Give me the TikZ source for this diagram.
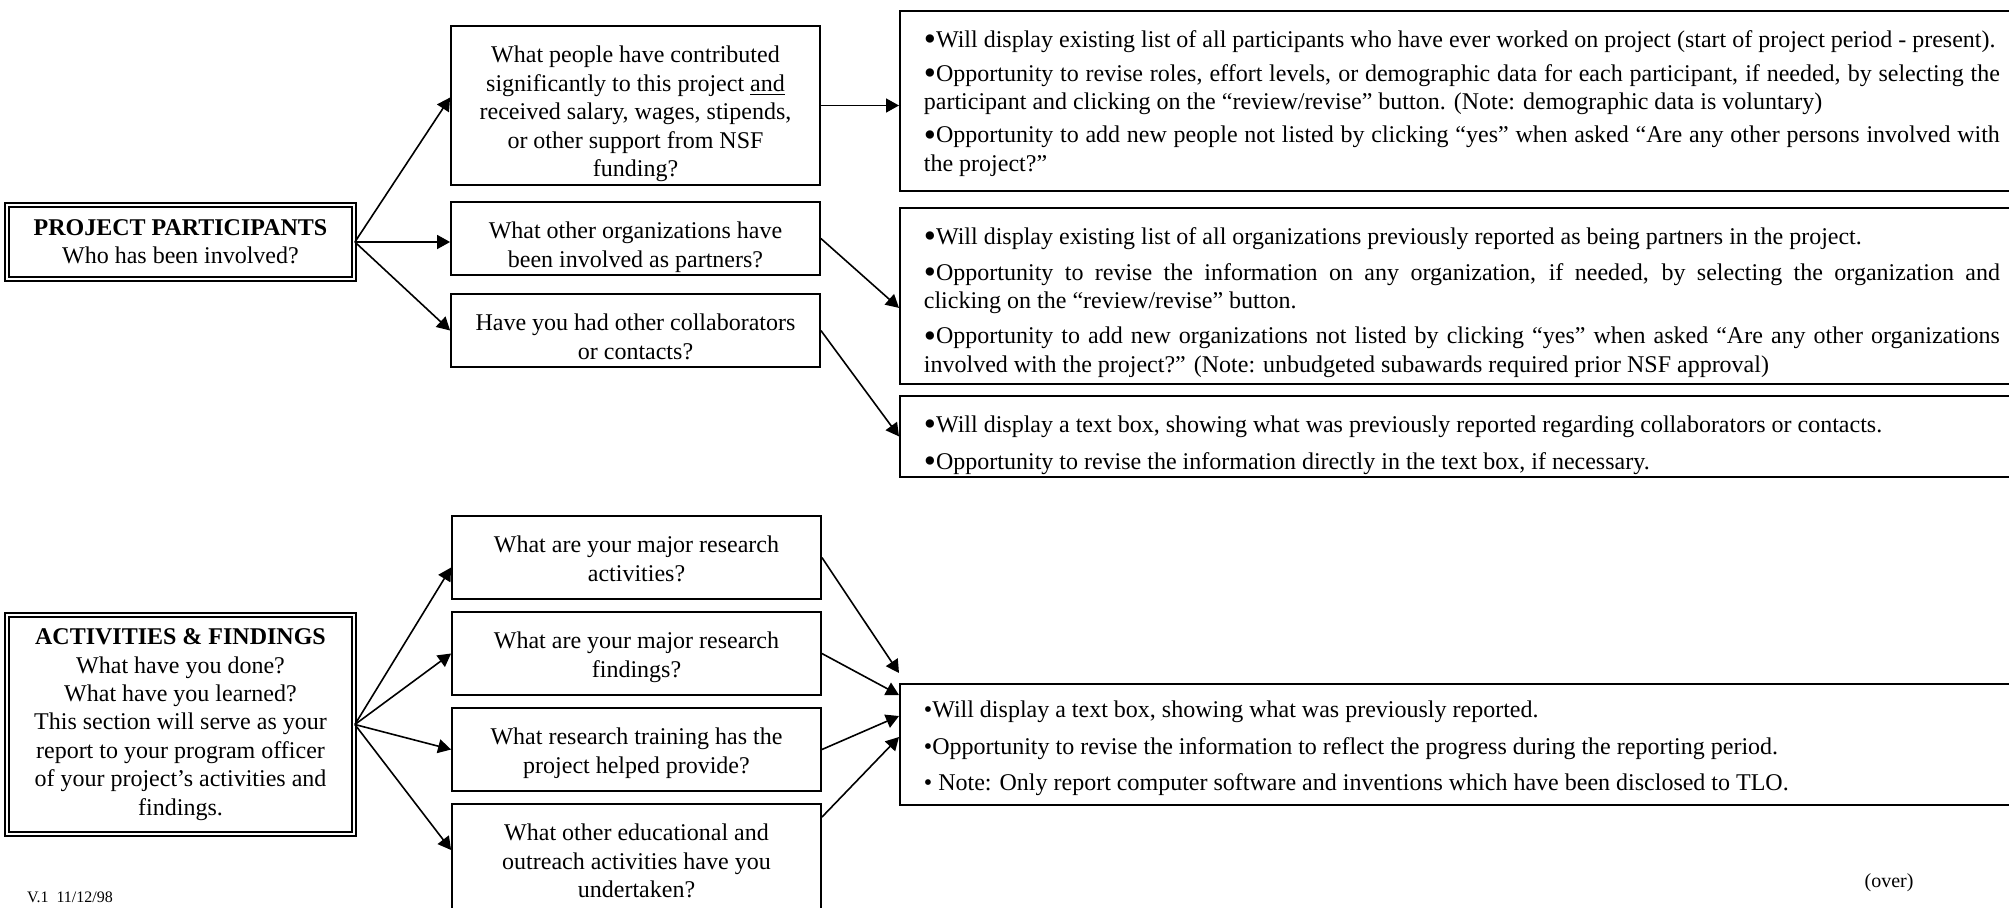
\documentclass[tikz,border=0pt]{standalone}
\usepackage{fontspec}
\setmainfont{Liberation Serif}
\usetikzlibrary{arrows.meta}
\newcommand{\bigbul}{\raisebox{-1.6pt}{\scalebox{1.45}{•}}}
% top-aligned box contents: height, text
\newcommand{\qtext}[2]{\parbox[c][#1][t]{180pt}{\centering\strut #2}}
\newcommand{\atext}[2]{\parbox[c][#1][t]{538pt}{\strut #2}}

\begin{document}
\begin{tikzpicture}[x=0.5pt, y=-0.5pt,
    every node/.style={font=\fontsize{12}{14.2}\selectfont},
    section/.style={draw, line width=0.9pt, double, double distance=1.2pt, align=center, minimum width=173.5pt, inner sep=2pt},
    question/.style={draw, line width=0.9pt, inner xsep=2.25pt, inner ysep=8.5pt},
    answer/.style={draw, line width=0.9pt, anchor=north west, inner xsep=12pt, inner ysep=8.5pt},
    link/.style={line width=0.8pt, -{Triangle[length=6.5pt, width=7pt]}}]
    \useasboundingbox (0,0) rectangle (2009,907);

    % Section 1: Project participants
    \node (pp) [section, minimum height=37pt] at (180.5,242) {\textbf{PROJECT PARTICIPANTS}\\ Who has been involved?};
    \node (qpeople) [question] at (635.5,105.5) {\qtext{62.5pt}{What people have contributed\\ significantly to this project \underline{and}\\ received salary, wages, stipends,\\ or other support from NSF\\ funding?}};
    \node (qorgs) [question] at (635.5,238.5) {\qtext{19.5pt}{What other organizations have\\ been involved as partners?}};
    \node (qcollab) [question] at (635.5,330.5) {\qtext{19.5pt}{Have you had other collaborators\\ or contacts?}};
    \node (rpeople) [answer] at (899,10) {\atext{73pt}{\bigbul Will display existing list of all participants who have ever worked on project (start of project period - present).\\[2.5pt]
        \bigbul Opportunity to revise roles, effort levels, or demographic data for each participant, if needed, by selecting the\linebreak participant and clicking on the “review/revise” button. (Note: demographic data is voluntary)\\[2.5pt]
        \bigbul Opportunity to add new people not listed by clicking “yes” when asked “Are any other persons involved with\linebreak the project?”}};
    \node (rorgs) [answer] at (899,207) {\atext{71pt}{\bigbul Will display existing list of all organizations previously reported as being partners in the project.\\[3.5pt]
        \bigbul Opportunity to revise the information on any organization, if needed, by selecting the organization and\linebreak clicking on the “review/revise” button.\\[3.5pt]
        \bigbul Opportunity to add new organizations not listed by clicking “yes” when asked “Are any other organizations\linebreak involved with the project?” (Note: unbudgeted subawards required prior NSF approval)}};
    \node (rcollab) [answer] at (899,395) {\atext{23.5pt}{\bigbul Will display a text box, showing what was previously reported regarding collaborators or contacts.\\[4pt]
        \bigbul Opportunity to revise the information directly in the text box, if necessary.}};
    \draw[link] (pp.east) -- ([yshift=4pt]qpeople.west);
    \draw[link] (pp.east) -- (pp.east -| qorgs.west);
    \draw[link] (pp.east) -- (qcollab.west);
    \draw[link] (qpeople.east) -- (qpeople.east -| rpeople.west);
    \draw[link] (qorgs.east) -- ([yshift=-6pt]rorgs.west);
    \draw[link] (qcollab.east) -- (rcollab.west);

    % Section 2: Activities and findings
    \node (af) [section, minimum height=109.5pt] at (180.5,724.5) {\textbf{ACTIVITIES \& FINDINGS}\\ What have you done?\\ What have you learned?\\ This section will serve as your\\ report to your program officer\\ of your project’s activities and\\ findings.};
    \node (qactiv) [question] at (636.5,557.5) {\qtext{24.5pt}{What are your major research\\ activities?}};
    \node (qfind) [question] at (636.5,653.5) {\qtext{24.5pt}{What are your major research\\ findings?}};
    \node (qtrain) [question] at (636.5,749.5) {\qtext{24.5pt}{What research training has the\\ project helped provide?}};
    \node (qoutreach) [question] at (636.5,860) {\qtext{39pt}{What other educational and\\ outreach activities have you\\ undertaken?}};
    \node (ractiv) [answer, inner ysep=7pt] at (899,683) {\atext{46.5pt}{•Will display a text box, showing what was previously reported.\\[4pt]
        •Opportunity to revise the information to reflect the progress during the reporting period.\\[4pt]
        • Note: Only report computer software and inventions which have been disclosed to TLO.}};
    \draw[link] (af.east) -- ([yshift=-5pt]qactiv.west);
    \draw[link] (af.east) -- (qfind.west);
    \draw[link] (af.east) -- (qtrain.west);
    \draw[link] (af.east) -- ([yshift=5pt]qoutreach.west);
    \draw[link] (qactiv.east) -- ([yshift=5pt]ractiv.north west);
    \draw[link] (qfind.east) -- ([yshift=-6pt]ractiv.north west);
    \draw[link] (qtrain.east) -- ([yshift=-16.5pt]ractiv.north west);
    \draw[link] ([yshift=-7pt]qoutreach.north east) -- ([yshift=-27pt]ractiv.north west);

    % footer
    \node (version) [font=\fontsize{8}{9}\selectfont, anchor=west] at (20,897) {V.1\ \ 11/12/98};
    \node (over) [font=\fontsize{10}{12}\selectfont] at (1889,883) {(over)};
\end{tikzpicture}
\end{document}
